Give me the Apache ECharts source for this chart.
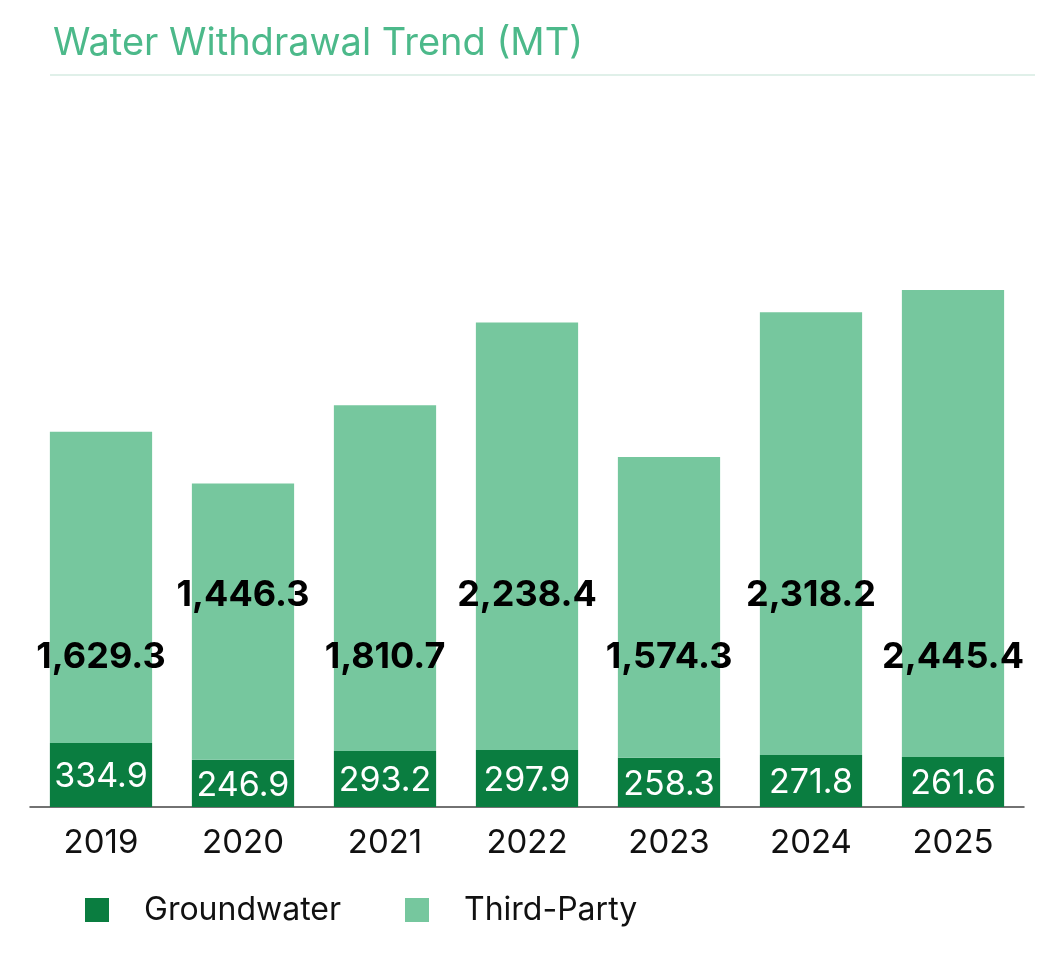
<!DOCTYPE html>
<html><head><meta charset="utf-8">
<script src="https://cdn.jsdelivr.net/npm/echarts@6/dist/echarts.min.js"></script>
<style>body{margin:0;background:#fff}#c{width:1059px;height:953px}</style>
</head><body><div id="c"></div>
<script>
const years = ['2019','2020','2021','2022','2023','2024','2025'];
const groundwater = [334.9, 246.9, 293.2, 297.9, 258.3, 271.8, 261.6];
const thirdParty = [1629.3, 1446.3, 1810.7, 2238.4, 1574.3, 2318.2, 2445.4];
const fmt = v => v.toLocaleString('en-US',{minimumFractionDigits:1,maximumFractionDigits:1});
const chart = echarts.init(document.getElementById('c'));
const font = 'Inter, "Noto Sans", sans-serif';
const opt = {
  animation:false,
  title:{text:'Water Withdrawal Trend (MT)',left:48,top:20,textStyle:{color:'#4cb98a',fontSize:38,fontWeight:'normal',fontFamily:font}},
  graphic:[{type:'line',shape:{x1:50,y1:75,x2:1035,y2:75},style:{stroke:'#d6ebe2',lineWidth:1.5}}],
  legend:{bottom:22,left:80,itemWidth:24,itemHeight:24,itemGap:64,icon:'rect',
    textStyle:{fontSize:32,fontFamily:font,color:'#111',padding:[0,0,0,30]}},
  grid:{left:30,right:35,top:234,bottom:146},
  xAxis:{type:'category',data:years,axisTick:{show:false},
    axisLine:{lineStyle:{color:'#444',width:1.5}},
    axisLabel:{fontSize:33,color:'#111',fontFamily:font,margin:20}},
  yAxis:{type:'value',min:0,max:3000,show:false,splitLine:{show:false}},
  series:[
    {name:'Groundwater',type:'bar',stack:'a',data:groundwater,barCategoryGap:'28%',
     itemStyle:{color:'#0a7d40'},
     label:{show:true,position:'inside',formatter:p=>fmt(p.value),color:'#fff',fontSize:34,fontFamily:font,offset:[0,2]}},
    {name:'Third-Party',type:'bar',stack:'a',data:thirdParty,
     itemStyle:{color:'#76c79e'},
     label:{show:true,position:'inside',formatter:p=>fmt(p.value),color:'#000',fontSize:36,fontWeight:'bold',fontFamily:font}}
  ]
};
chart.setOption(opt);
const data = thirdParty.map((v,i)=>{
  const mid = chart.convertToPixel({gridIndex:0},[i, groundwater[i]+v/2])[1];
  const target = i%2===0 ? 657 : 595;
  return {value:v,label:{offset:[0,target-mid]}};
});
chart.setOption({series:[{},{data}]});
</script></body></html>
